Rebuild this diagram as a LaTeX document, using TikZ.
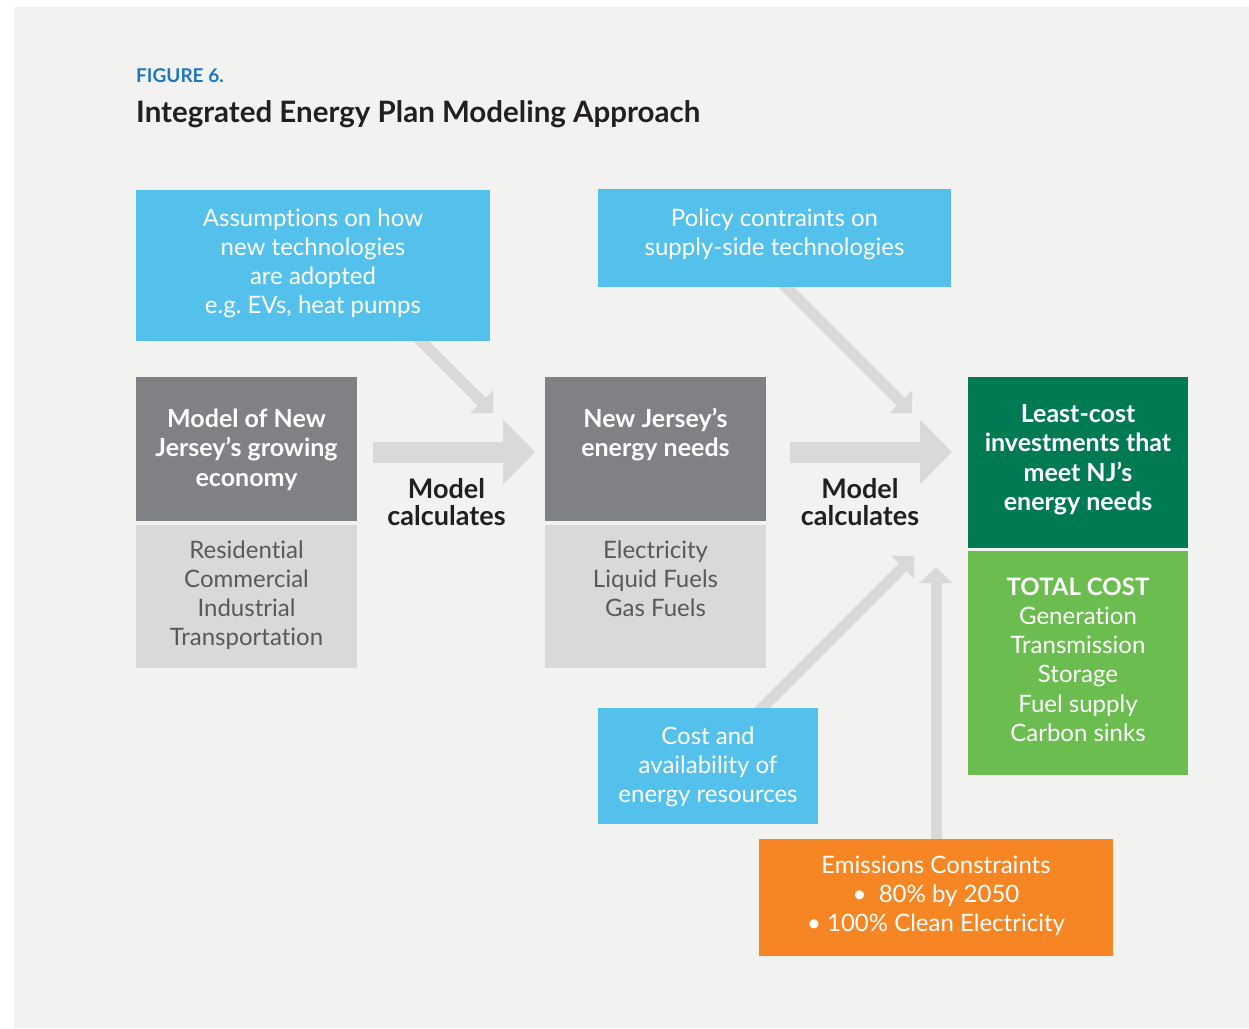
\documentclass[tikz,border=0pt]{standalone}
\usepackage{fontspec}
\setmainfont{Lato}[Ligatures=NoCommon]
\usetikzlibrary{arrows.meta,positioning,backgrounds}
\definecolor{panelgray}{HTML}{F2F2F1}
\definecolor{arrowgray}{HTML}{DAD9D7}
\definecolor{skyblue}{HTML}{54C1EC}
\definecolor{slate}{HTML}{808184}
\definecolor{mist}{HTML}{DAD9D7}
\definecolor{pine}{HTML}{007A53}
\definecolor{leaf}{HTML}{6ABD4E}
\definecolor{tangerine}{HTML}{F58623}
\definecolor{figblue}{HTML}{1F78BF}
\definecolor{ink}{HTML}{231F20}
\definecolor{greytext}{HTML}{58595B}
\newcommand*{\regfont}{\fontsize{24}{29.3}\selectfont}
\newcommand*{\heavyfont}{\fontsize{25}{29.5}\selectfont\bfseries}
\newcommand*{\stack}[1]{\begin{tabular}[t]{@{}c@{}}#1\end{tabular}}

\begin{document}
\begin{tikzpicture}[x=1pt,y=-1pt,
  card/.style={inner sep=0pt,outer sep=0pt,anchor=north},
  skycard/.style={card,fill=skyblue,text=white,font=\regfont},
  slatecard/.style={card,fill=slate,text=white,font=\heavyfont,minimum width=221pt,text height=50pt,text depth=93.5pt},
  mistcard/.style={card,fill=mist,text=greytext,font=\regfont,minimum width=221pt,text height=33pt,text depth=110pt},
  pinecard/.style={card,fill=pine,text=white,font=\heavyfont,minimum width=220pt,text height=45pt,text depth=125.5pt},
  leafcard/.style={card,fill=leaf,text=white,font=\regfont,minimum width=220pt,text height=44pt,text depth=180pt},
  fatarrow/.style={draw=arrowgray,line width=21pt,-{Triangle[length=32pt,width=63pt]}},
  slimarrow/.style={draw=arrowgray,line width=11pt,-{Triangle[length=16pt,width=32pt]}},
  calcnote/.style={font=\fontsize{27}{25}\selectfont\bfseries,text=ink,inner sep=0pt,anchor=base}]
\useasboundingbox (0,0) rectangle (1249,1028);

% heading
\node[anchor=base west,inner sep=0pt,text=figblue,font=\fontsize{19}{19}\selectfont\bfseries] (fig) at (136,82) {FIGURE 6.};
\node[anchor=base west,inner sep=0pt,text=ink,font=\fontsize{29.5}{29.5}\selectfont\bfseries] (ttl) at (136,122) {Integrated Energy Plan Modeling Approach};

% inputs
\node[skycard,minimum width=354pt,text height=36pt,text depth=115pt] (asm) at (313,190) {\stack{Assumptions on how\\new technologies\\are adopted\\e.g.\ EVs, heat pumps}};
\node[skycard,minimum width=353pt,text height=37pt,text depth=61pt] (pol) at (774.5,189) {\stack{Policy contraints on\\supply-side technologies}};
\node[skycard,minimum width=220pt,text height=36pt,text depth=80pt] (cst) at (708,708) {\stack{Cost and\\availability of\\energy resources}};
\node[card,fill=tangerine,text=white,font=\regfont,minimum width=354pt,text height=34pt,text depth=83pt] (emi) at (936,839) {\stack{Emissions Constraints\\\textbullet\ \ 80\% by 2050\\\textbullet\ 100\% Clean Electricity}};

% model chain
\node[slatecard] (eco) at (246.5,377) {\stack{Model of New\\Jersey’s growing\\economy}};
\node[mistcard,below=4.5pt of eco] (sec) {\stack{Residential\\Commercial\\Industrial\\Transportation}};
\node[slatecard] (nrg) at (655.5,377) {\stack{New Jersey’s\\energy needs}};
\node[mistcard,below=4.5pt of nrg] (fue) {\stack{Electricity\\Liquid Fuels\\Gas Fuels}};
\node[pinecard] (lci) at (1078,377) {\stack{Least-cost\\investments that\\meet NJ’s\\energy needs}};
\node[leafcard,below=3.5pt of lci] (tot) {\stack{\textbf{TOTAL COST}\\Generation\\Transmission\\Storage\\Fuel supply\\Carbon sinks}};

\node[calcnote] (mca) at (446.5,498) {\stack{Model\\calculates}};
\node[calcnote] (mcb) at (860,498) {\stack{Model\\calculates}};

% arrow tips
\coordinate (tipa) at (535,452);
\coordinate (tipb) at (952,452);
\coordinate (tipc) at (493,413);
\coordinate (tipd) at (912,413);
\coordinate (tipe) at (914,556);
\coordinate (tipf) at (936,567);

\begin{pgfonlayer}{background}
\fill[white] (0,0) rectangle (1249,1028);
\fill[panelgray] (14,7) rectangle (1249,1028);
\draw[fatarrow] ([shift={(16,3.25)}]eco.east) -- (tipa);
\draw[fatarrow] ([shift={(24,3.25)}]nrg.east) -- (tipb);
\draw[slimarrow] ([shift={(100,-8)}]asm.south) -- (tipc);
\draw[slimarrow] ([shift={(3.5,-8)}]pol.south) -- (tipd);
\draw[slimarrow] ([shift={(46,8)}]cst.north) -- (tipe);
\draw[slimarrow] ([shift={(0,8)}]emi.north) -- (tipf);
\end{pgfonlayer}
\end{tikzpicture}
\end{document}
